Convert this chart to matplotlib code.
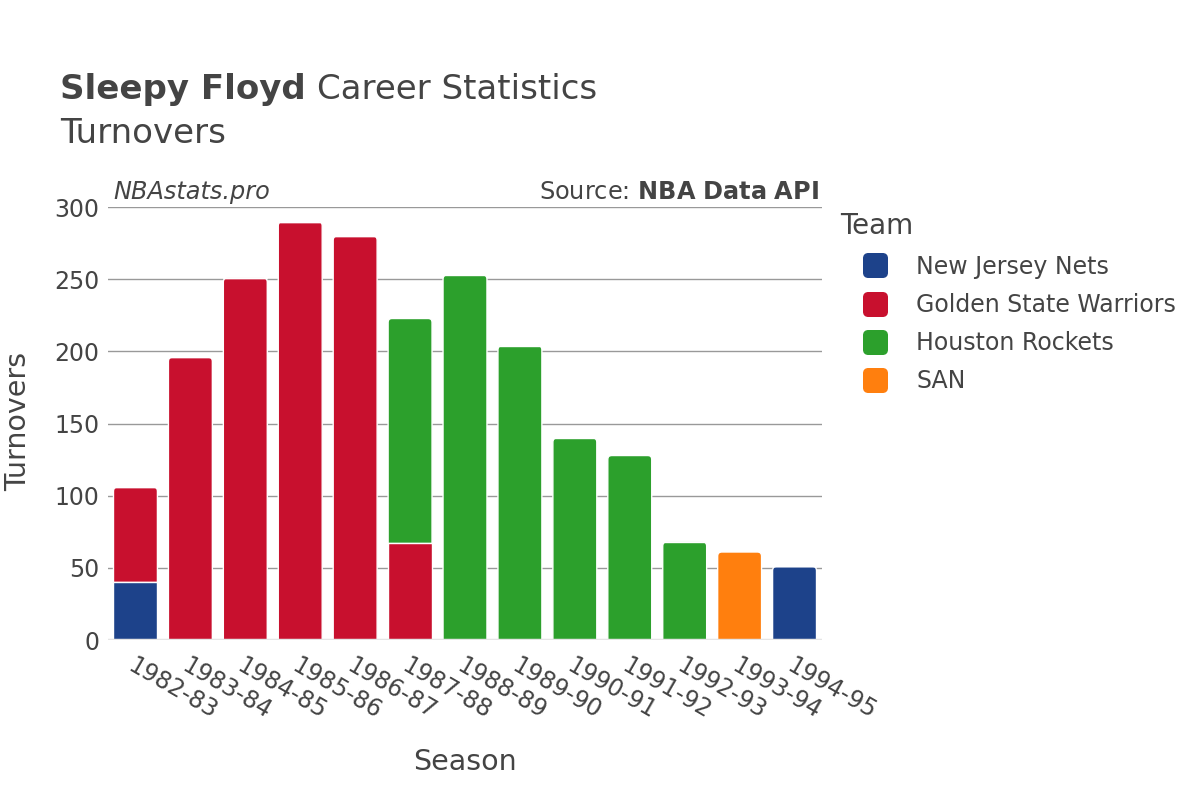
import matplotlib.pyplot as plt
from matplotlib.lines import Line2D
from matplotlib.path import Path
from matplotlib.patches import PathPatch, FancyBboxPatch

seasons = ["1982-83", "1983-84", "1984-85", "1985-86", "1986-87", "1987-88", "1988-89",
           "1989-90", "1990-91", "1991-92", "1992-93", "1993-94", "1994-95"]
teams = ["New Jersey Nets", "Golden State Warriors", "Houston Rockets", "SAN"]
colors = {"New Jersey Nets": "#1d428a", "Golden State Warriors": "#c8102e",
          "Houston Rockets": "#2ca02c", "SAN": "#ff7f0e"}

# turnovers per team per season (0 = did not play for team)
njn = [40, 0, 0, 0, 0, 0, 0, 0, 0, 0, 0, 0, 51]
gsw = [66, 196, 251, 290, 280, 67, 0, 0, 0, 0, 0, 0, 0]
hou = [0, 0, 0, 0, 0, 156, 253, 204, 140, 128, 68, 0, 0]
san = [0, 0, 0, 0, 0, 0, 0, 0, 0, 0, 0, 61, 0]
series = [njn, gsw, hou, san]

text_color = "#444444"
plt.rcParams['font.family'] = ['DejaVu Sans']

fig = plt.figure(figsize=(12, 8), dpi=100)
ax = fig.add_axes([0.09, 0.2, 0.595, 0.541])

x = list(range(len(seasons)))
ax.set_xlim(-0.5, len(seasons) - 0.5)
ax.set_ylim(0, 300)

totals = [sum(v) for v in zip(*series)]
bottom = [0] * len(seasons)
for team, vals in zip(teams, series):
    bars = ax.bar(x, vals, bottom=bottom, width=0.8, color=colors[team],
                  edgecolor="white", linewidth=1, zorder=3)
    # round the top corners of the topmost segment
    for i, rect in enumerate(bars):
        if vals[i] == 0 or bottom[i] + vals[i] != totals[i]:
            continue
        x0, y0 = rect.get_x(), rect.get_y()
        w, h = rect.get_width(), rect.get_height()
        rx, ry = 0.075, 2.9
        verts = [(x0, y0), (x0, y0 + h - ry), (x0, y0 + h), (x0 + rx, y0 + h),
                 (x0 + w - rx, y0 + h), (x0 + w, y0 + h), (x0 + w, y0 + h - ry),
                 (x0 + w, y0), (x0, y0)]
        codes = [Path.MOVETO, Path.LINETO, Path.CURVE3, Path.CURVE3, Path.LINETO,
                 Path.CURVE3, Path.CURVE3, Path.LINETO, Path.CLOSEPOLY]
        rect.set_visible(False)
        ax.add_patch(PathPatch(Path(verts, codes), facecolor=colors[team],
                               edgecolor="white", linewidth=1, zorder=3))
    bottom = [b + v for b, v in zip(bottom, vals)]

ax.set_yticks([0, 50, 100, 150, 200, 250, 300])
ax.grid(axis="y", color="#999999", linewidth=1, zorder=0)
ax.axhline(0, color="#e5e5e5", linewidth=2.5, zorder=4)
for s in ax.spines.values():
    s.set_visible(False)
ax.tick_params(axis="both", length=0, labelsize=17, colors=text_color, pad=6)
ax.set_xticks(x)
ax.set_xticklabels(seasons, rotation=-30, ha="left", va="top", rotation_mode="anchor")
ax.tick_params(axis="x", pad=10)

ax.set_xlabel("Season", fontsize=20.5, color=text_color, labelpad=17)
ax.set_ylabel("Turnovers", fontsize=20.5, color=text_color)
ax.yaxis.set_label_coords(-0.106, 0.505)

t1 = fig.text(0.05, 0.876, "Sleepy Floyd", fontsize=24.5, fontweight="bold",
              color=text_color, va="baseline")
fig.canvas.draw()
bb = t1.get_window_extent()
fig.text(bb.x1 / 1200 + 0.009, 0.876, "Career Statistics", fontsize=24.5,
         color=text_color, va="baseline")
fig.text(0.05, 0.821, "Turnovers", fontsize=24.5, color=text_color, va="baseline")

ax.text(0.007, 1.008, "NBAstats.pro", transform=ax.transAxes, fontsize=17.3,
        fontstyle="italic", color=text_color, va="bottom", ha="left")
ax.text(0.995, 1.008, "Source: $\\bf{NBA\\ Data\\ API}$", transform=ax.transAxes,
        fontsize=17.3, color=text_color, va="bottom", ha="right")

rounded = FancyBboxPatch((-0.5, -0.5), 1, 1, boxstyle="round,pad=0,rounding_size=0.2").get_path()
handles = [Line2D([0], [0], marker=rounded, linestyle="none", markersize=17,
                  markerfacecolor=colors[t], markeredgecolor=colors[t]) for t in teams]
leg = fig.legend(handles, teams, title="Team", loc="upper left",
                 bbox_to_anchor=(0.682, 0.761), frameon=False, fontsize=17,
                 title_fontsize=20, labelspacing=0.6, handlelength=3.0,
                 handletextpad=0.25, alignment="left", labelcolor=text_color)
leg.get_title().set_color(text_color)

fig.savefig("out.png", dpi=100, facecolor="white")
